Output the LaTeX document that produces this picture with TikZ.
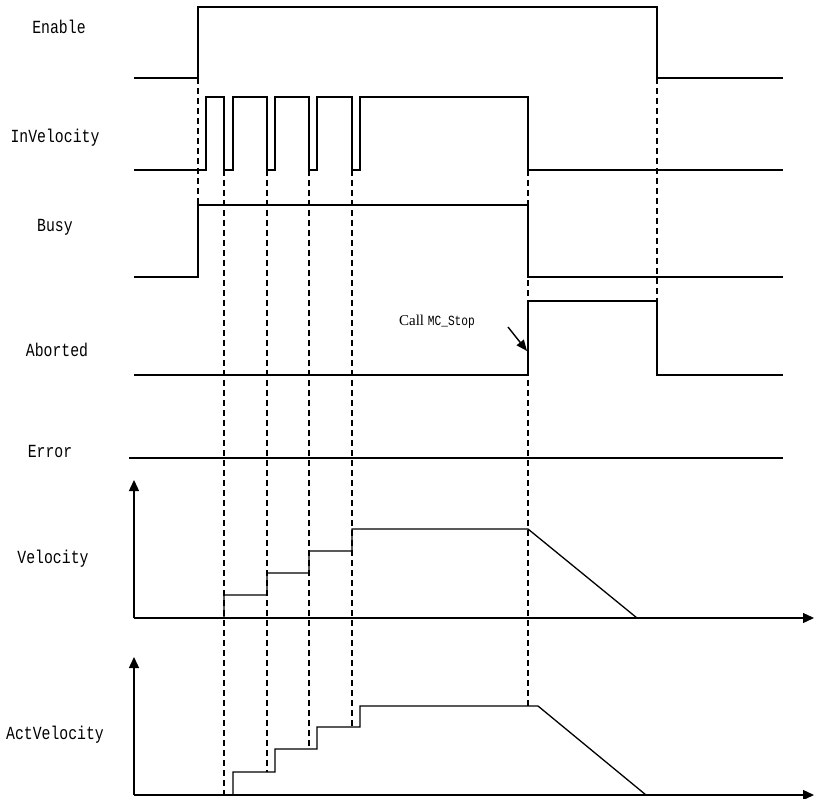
\documentclass[tikz,border=0pt]{standalone}
\usepackage{fontspec}
\setmainfont{Liberation Serif}
\setmonofont{Liberation Mono}
\newfontfamily\sigfont[FakeStretch=0.8]{Liberation Mono}
\usepackage{tikz}
\usetikzlibrary{arrows.meta}

\begin{document}
\begin{tikzpicture}[x=1pt, y=-1pt,
    sig/.style={line width=1.3pt},
    guide/.style={line width=1.1pt, dash pattern=on 6pt off 4pt},
    axis/.style={line width=1.3pt, -{Triangle[length=11pt,width=10pt]}},
    lbl/.style={font=\fontsize{18.5}{20}\selectfont\sigfont}]
    \useasboundingbox (0,0) rectangle (814,799);

    % signal names
    \node [lbl] (enable) at (59,27) {Enable};
    \node [lbl] (invel) at (55,138) {InVelocity};
    \node [lbl] (busy) at (55,227) {Busy};
    \node [lbl] (aborted) at (57,350) {Aborted};
    \node [lbl] (error) at (50,451) {Error};
    \node [lbl] (vel) at (53,559) {Velocity};
    \node [lbl] (actvel) at (55,735) {ActVelocity};

    % bit signals
    \draw [sig] (134,78) -- (198,78) -- (198,7) -- (657,7) -- (657,78) -- (783,78);
    \draw [sig] (134,170) -- (206,170) -- (206,97) -- (224,97) -- (224,170) -- (233,170) -- (233,97)
        -- (267,97) -- (267,170) -- (275,170) -- (275,97) -- (309,97) -- (309,170) -- (317,170)
        -- (317,97) -- (352,97) -- (352,170) -- (360,170) -- (360,97) -- (528,97) -- (528,170) -- (783,170);
    \draw [sig] (134,277) -- (198,277) -- (198,205) -- (528,205) -- (528,277) -- (783,277);
    \draw [sig] (134,375) -- (528,375) -- (528,301) -- (657,301) -- (657,375) -- (783,375);
    \draw [sig] (129,458) -- (783,458);

    % command
    \node [font=\fontsize{15}{17}\selectfont] (call) at (437,322) {Call {\fontsize{14}{16}\selectfont\sigfont MC\_Stop}};
    \coordinate (callpt) at (508,327);
    \draw [line width=1.4pt, -{Triangle[length=11pt,width=9pt]}] (callpt) -- (527,351);

    % velocity plots
    \draw [axis] (134,618) -- (134,480);
    \draw [axis] (134,618) -- (814,618);
    \draw [sig] (224,618) -- (224,595) -- (267,595) -- (267,573) -- (309,573) -- (309,551)
        -- (352,551) -- (352,529) -- (528,529) -- (637,618);
    \draw [axis] (134,795) -- (134,657);
    \draw [axis] (134,795) -- (814,795);
    \draw [sig] (233,795) -- (233,772) -- (275,772) -- (275,749) -- (317,749) -- (317,727)
        -- (360,727) -- (360,706) -- (538,706) -- (646,795);

    % guide lines
    \draw [guide] (198,78) -- (198,205);
    \draw [guide] (224,170) -- (224,795);
    \draw [guide] (267,170) -- (267,772);
    \draw [guide] (309,170) -- (309,749);
    \draw [guide] (352,170) -- (352,727);
    \draw [guide] (528,170) -- (528,706);
    \draw [guide] (657,78) -- (657,301);
\end{tikzpicture}
\end{document}
